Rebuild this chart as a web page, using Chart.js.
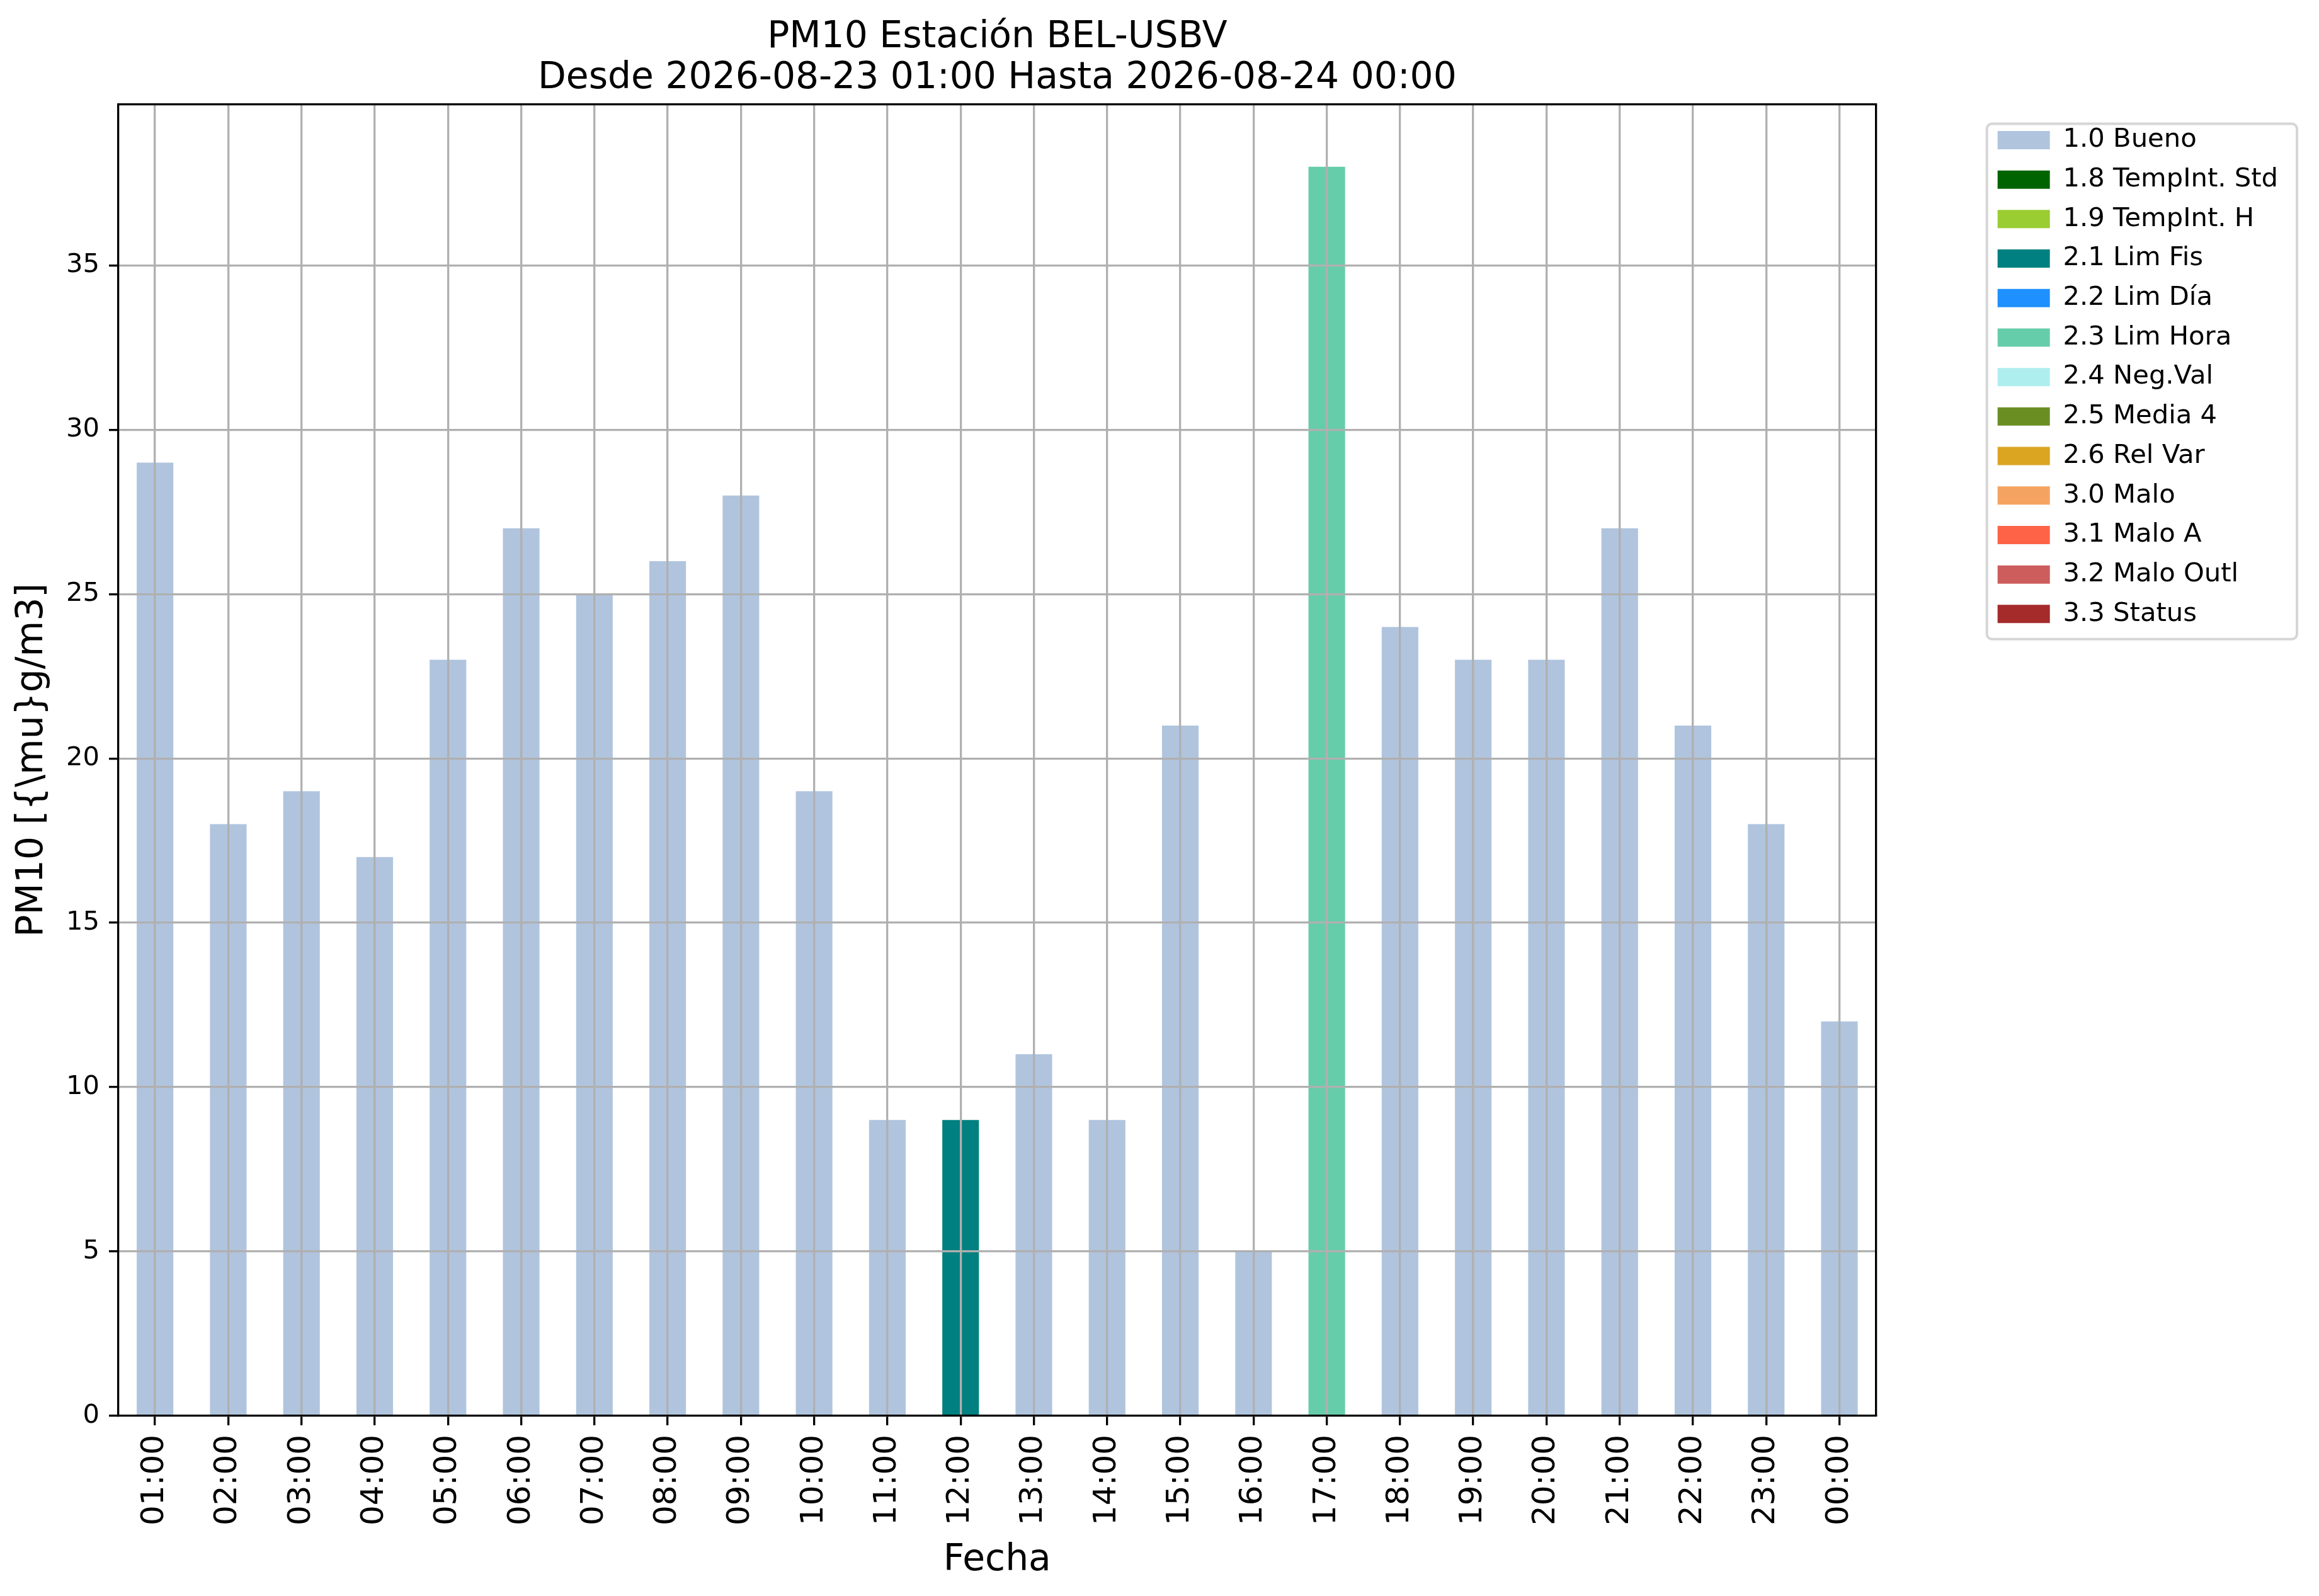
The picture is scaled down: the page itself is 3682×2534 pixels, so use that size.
<!DOCTYPE html>
<html>
<head>
<meta charset="utf-8">
<title>PM10 BEL-USBV</title>
<script src="https://cdn.jsdelivr.net/npm/chart.js@4.4.1/dist/chart.umd.min.js"></script>
<style>
  html, body { margin: 0; padding: 0; background: #ffffff; }
  canvas { display: block; }
</style>
</head>
<body>
<canvas id="pm10" width="3682" height="2534" style="width:3682px;height:2534px"></canvas>
<script>
// Horas del día (eje X)
const hours = ['01:00', '02:00', '03:00', '04:00', '05:00', '06:00', '07:00', '08:00',
  '09:00', '10:00', '11:00', '12:00', '13:00', '14:00', '15:00', '16:00',
  '17:00', '18:00', '19:00', '20:00', '21:00', '22:00', '23:00', '00:00'];

// Concentración PM10 por hora
const pm10 = [29, 18, 19, 17, 23, 27, 25, 26, 28, 19, 9, 9,
  11, 9, 21, 5, 38, 24, 23, 23, 27, 21, 18, 12];

// Bandera de validación de cada hora
const hourFlags = ['1.0', '1.0', '1.0', '1.0', '1.0', '1.0', '1.0', '1.0',
  '1.0', '1.0', '1.0', '2.1', '1.0', '1.0', '1.0', '1.0',
  '2.3', '1.0', '1.0', '1.0', '1.0', '1.0', '1.0', '1.0'];

// Banderas posibles (leyenda)
const flagCodes = ['1.0', '1.8', '1.9', '2.1', '2.2', '2.3', '2.4', '2.5', '2.6', '3.0', '3.1', '3.2', '3.3'];
const flagNames = ['Bueno', 'TempInt. Std', 'TempInt. H', 'Lim Fis', 'Lim Día', 'Lim Hora',
  'Neg.Val', 'Media 4', 'Rel Var', 'Malo', 'Malo A', 'Malo Outl', 'Status'];
const flagColors = ['#b0c4de', '#006400', '#9acd32', '#008080', '#1e90ff', '#66cdaa',
  '#afeeee', '#6b8e23', '#daa520', '#f4a460', '#ff6347', '#cd5c5c', '#a52a2a'];

const yMax = 39.9;
const yStep = 5;

const FONT = "'DejaVu Sans', 'Liberation Sans', sans-serif";

// una serie por bandera, solo con las horas que la tienen
const datasets = flagCodes.map((code, k) => ({
  label: code + ' ' + flagNames[k],
  data: pm10.map((v, i) => (hourFlags[i] === code ? v : null)),
  backgroundColor: flagColors[k],
  borderWidth: 0,
  barPercentage: 0.5,
  categoryPercentage: 1.0,
}));

// marco de la leyenda (estilo matplotlib)
const legendFrame = {
  id: 'legendFrame',
  beforeDraw(chart) {
    const boxes = chart.legend && chart.legend.legendHitBoxes;
    if (!boxes || !boxes.length) return;
    const first = boxes[0];
    const last = boxes[boxes.length - 1];
    let right = 0;
    boxes.forEach(b => { right = Math.max(right, b.left + b.width); });
    const x = first.left - 17;
    const y = first.top - 5;
    const w = right + 30 - x;
    const h = last.top + last.height + 19 - y;
    const ctx = chart.ctx;
    ctx.save();
    ctx.fillStyle = '#ffffff';
    ctx.strokeStyle = '#d6d6d6';
    ctx.lineWidth = 4;
    ctx.beginPath();
    ctx.roundRect(x, y, w, h, 8);
    ctx.fill();
    ctx.stroke();
    ctx.restore();
  }
};

const ctx = document.getElementById('pm10');

const pm10Chart = new Chart(ctx, {
  type: 'bar',
  data: {
    labels: hours,
    datasets: datasets,
  },
  plugins: [legendFrame],
  options: {
    responsive: false,
    devicePixelRatio: 1,
    animation: false,
    layout: {
      padding: { left: 0, right: 55, top: 0, bottom: 0 },
    },
    scales: {
      x: {
        stacked: true,
        offset: true,
        grid: {
          z: 1,  // rejilla encima de las barras, como en matplotlib
          offset: false,
          color: '#b0b0b0',
          lineWidth: 3.3,
          tickColor: '#000000',
          tickWidth: 3.3,
          tickLength: 15,
        },
        border: { z: 1, color: '#000000', width: 3.3 },
        ticks: {
          z: 1,
          color: '#000000',
          font: { family: FONT, size: 50 },
          minRotation: 90,
          maxRotation: 90,
          padding: 15,
          autoSkip: false,
        },
        title: {
          display: true,
          text: 'Fecha',
          color: '#000000',
          font: { family: FONT, size: 58.3, lineHeight: 1.2 },
          padding: { top: 6, bottom: 21 },
        },
      },
      y: {
        stacked: true,
        min: 0,
        max: yMax,
        grid: {
          z: 1,
          color: (c) => (c.tick && c.tick.value === 0 ? 'rgba(0,0,0,0)' : '#b0b0b0'),
          lineWidth: 3.3,
          tickColor: '#000000',
          tickWidth: 3.3,
          tickLength: 15,
        },
        border: { z: 1, color: '#000000', width: 3.3 },
        ticks: {
          z: 1,
          stepSize: yStep,
          includeBounds: false,
          color: '#000000',
          font: { family: FONT, size: 41.7 },
          padding: 15,
        },
        title: {
          display: true,
          text: 'PM10 [{\\mu}g/m3]',
          color: '#000000',
          font: { family: FONT, size: 58.3, lineHeight: 1.2 },
          padding: { top: 17, bottom: 3 },
        },
      },
      // ejes vacíos: solo dibujan el marco superior y derecho
      xTop: {
        type: 'linear',
        position: 'top',
        grid: { display: false, drawTicks: false },
        ticks: { display: false },
        border: { z: 1, color: '#000000', width: 3.3 },
        afterFit: (scale) => { scale.height = 0; },
      },
      yRight: {
        type: 'linear',
        position: 'right',
        grid: { display: false, drawTicks: false },
        ticks: { display: false },
        border: { z: 1, color: '#000000', width: 3.3 },
        afterFit: (scale) => { scale.width = 172; },
      },
    },
    plugins: {
      title: {
        display: true,
        fullSize: false,
        text: ['PM10 Estación BEL-USBV', 'Desde 2026-08-23 01:00 Hasta 2026-08-24 00:00'],
        color: '#000000',
        font: { family: FONT, size: 58.3, weight: 'normal', lineHeight: 1.12 },
        padding: { top: 27, bottom: 8 },
      },
      legend: {
        display: true,
        position: 'right',
        align: 'start',
        fullSize: false,
        title: {
          display: true,
          text: '',
          font: { size: 1, lineHeight: 1 },
          padding: { top: 14, bottom: 0 },
        },
        labels: {
          color: '#000000',
          font: { family: FONT, size: 41.7 },
          boxWidth: 83,
          boxHeight: 29,
          padding: 21,
        },
      },
      tooltip: { enabled: false },
    },
  },
});
</script>
</body>
</html>
